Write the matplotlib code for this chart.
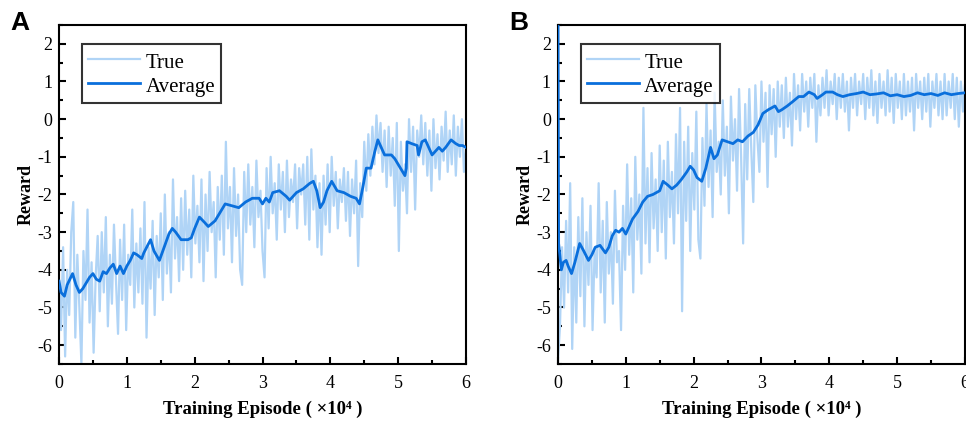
import numpy as np
import matplotlib
matplotlib.use("Agg")
import matplotlib.pyplot as plt
from matplotlib.ticker import MultipleLocator

plt.rcParams["font.family"] = ["Liberation Serif", "DejaVu Serif"]
plt.rcParams["axes.unicode_minus"] = False

# panel A, raw reward (x in units of 1e4 episodes, evenly spaced 0..6)
true_a = [
    -4.3, -5.6, -3.4, -6.3, -4.0, -5.2, -3.0, -2.2, -5.8, -3.6,
    -5.0, -6.5, -3.5, -4.8, -2.4, -5.4, -3.8, -6.2, -4.2, -3.1,
    -5.1, -3.0, -4.6, -2.6, -5.5, -3.6, -4.9, -2.8, -4.3, -5.7,
    -3.2, -4.8, -2.8, -5.6, -3.6, -4.4, -2.4, -5.0, -3.3, -4.6,
    -2.9, -4.9, -2.2, -5.8, -3.4, -4.5, -2.7, -5.2, -3.1, -4.2,
    -2.5, -4.8, -2.0, -4.1, -3.0, -4.6, -1.6, -3.7, -2.6, -4.3,
    -2.1, -4.0, -1.9, -3.6, -2.4, -4.2, -1.5, -3.3, -2.3, -3.8,
    -1.6, -4.3, -2.0, -3.5, -1.4, -3.0, -2.2, -4.2, -1.8, -3.2,
    -1.5, -3.6, -0.6, -2.9, -1.8, -3.8, -1.3, -3.1, -2.0, -4.0,
    -4.4, -1.4, -3.0, -1.2, -2.8, -1.8, -3.4, -1.1, -2.6, -1.9,
    -3.5, -4.2, -1.3, -2.9, -1.0, -2.5, -1.7, -3.2, -1.2, -2.4,
    -1.4, -3.0, -1.1, -2.6, -1.6, -2.2, -1.2, -2.9, -1.3, -2.0,
    -1.2, -2.8, -1.0, -3.2, -0.8, -2.4, -1.5, -3.4, -1.7, -3.6,
    -1.5, -2.8, -1.2, -3.0, -1.0, -2.3, -1.4, -2.9, -1.6, -2.2,
    -1.3, -2.7, -1.4, -3.1, -1.6, -2.5, -1.1, -3.9, -1.7, -2.6,
    -0.6, -1.9, -0.4, -1.5, -0.2, -1.2, 0.1, -0.9, -0.1, -1.4,
    -0.3, -1.8, -0.2, -1.5, -0.5, -2.3, -0.1, -3.5, -0.6, -1.9,
    -1.2, -2.5, 0.0, -1.4, -0.2, -2.4, -0.3, -1.0, 0.1, -1.2,
    -0.1, -1.5, -0.3, -1.9, 0.0, -1.3, -0.4, -1.6, -0.2, -1.1,
    0.2, -1.4, -0.3, -1.2, 0.1, -1.5, -0.2, -1.0, 0.0, -1.4,
    -0.8,
]

# panel A, moving average read at these episodes
avg_a_x = [
    0.0, 0.03, 0.08, 0.12, 0.2, 0.25, 0.3, 0.35, 0.45, 0.5, 0.55, 0.6,
    0.65, 0.7, 0.75, 0.8, 0.85, 0.9, 0.95, 1.0, 1.05, 1.1, 1.15, 1.22,
    1.25, 1.35, 1.4, 1.48, 1.55, 1.62, 1.67, 1.72, 1.8, 1.9, 1.95, 2.0,
    2.07, 2.15, 2.2, 2.3, 2.35, 2.45, 2.55, 2.65, 2.75, 2.85, 2.95, 3.0,
    3.05, 3.1, 3.15, 3.25, 3.35, 3.4, 3.5, 3.6, 3.7, 3.75, 3.8, 3.85,
    3.9, 3.95, 4.02, 4.1, 4.2, 4.3, 4.38, 4.43, 4.48, 4.53, 4.6, 4.65,
    4.7, 4.75, 4.8, 4.9, 4.95, 5.0, 5.05, 5.1, 5.12, 5.13, 5.2, 5.28,
    5.3, 5.35, 5.4, 5.45, 5.5, 5.55, 5.6, 5.65, 5.7, 5.78, 5.85, 5.9,
    5.95, 6.0,
]
avg_a = [
    -4.3, -4.6, -4.7, -4.4, -4.1, -4.4, -4.6, -4.5, -4.2, -4.1, -4.25, -4.3,
    -4.05, -4.1, -3.95, -3.85, -4.1, -3.9, -4.1, -3.9, -3.75, -3.55, -3.6, -3.7,
    -3.55, -3.2, -3.5, -3.75, -3.4, -3.05, -2.9, -3.0, -3.2, -3.2, -3.15, -2.9,
    -2.6, -2.75, -2.85, -2.7, -2.55, -2.25, -2.3, -2.35, -2.2, -2.1, -2.1, -2.25,
    -2.1, -2.2, -1.95, -1.9, -2.05, -2.15, -1.95, -1.85, -1.7, -1.65, -1.9, -2.35,
    -2.2, -1.9, -1.65, -1.9, -1.95, -2.05, -2.1, -2.25, -1.8, -1.3, -1.3, -0.9,
    -0.55, -0.75, -0.95, -0.95, -1.05, -1.2, -1.35, -1.5, -1.3, -0.6, -0.65, -0.7,
    -0.95, -0.6, -0.55, -0.75, -0.95, -0.85, -0.75, -0.85, -0.75, -0.55, -0.65, -0.7,
    -0.7, -0.75,
]

# panel B, raw reward
true_b = [
    -6.4, -5.5, -3.4, -5.0, -2.7, -4.6, -1.7, -6.1, -3.4, -5.4,
    -2.6, -4.7, -2.1, -5.5, -3.0, -4.4, -2.3, -5.6, -3.5, -4.2,
    -1.7, -4.6, -2.7, -5.4, -2.2, -4.1, -3.0, -4.9, -1.9, -3.8,
    -3.5, -5.6, -2.3, -4.0, -1.2, -3.6, -2.1, -4.6, -1.0, -3.2,
    -2.0, -4.1, 0.3, -3.3, -1.3, -3.8, -0.9, -2.9, -1.6, -3.5,
    -0.7, -3.0, -1.1, -3.7, -0.6, -2.6, -1.4, -3.3, -0.4, -2.5,
    0.3, -5.1, -0.6, -2.7, -0.2, -3.5, -0.9, -2.4, 0.2, -3.2,
    -3.7, -0.5, -2.3, 0.4, -1.8, -0.3, -2.6, 0.7, -1.4, -0.6,
    -2.0, 0.5, -1.5, -0.2, -2.5, 0.6, -1.1, 0.0, -1.9, 0.8,
    -1.0, -3.3, 0.4, -1.6, 0.8, -0.8, -2.2, 0.9, -0.5, -1.4,
    1.0, -0.6, 0.7, -1.8, 0.9, -0.4, 0.8, -1.0, 1.0, -0.2,
    0.9, -0.5, 1.1, -0.2, 0.7, -0.7, 1.2, 0.0, 0.9, -0.3,
    1.2, 0.2, 1.0, -0.2, 1.1, 0.3, 1.2, -0.6, 0.9, 0.1,
    1.1, 0.3, 1.3, 0.1, 1.0, 0.4, 1.2, 0.0, 1.1, 0.3,
    1.2, 0.2, 1.0, -0.3, 1.1, 0.3, 1.2, 0.1, 1.0, 0.4,
    1.2, 0.0, 1.1, 0.3, 1.3, 0.1, 1.0, -0.1, 1.2, 0.3,
    1.0, 0.1, 1.3, 0.2, 1.1, -0.1, 1.2, 0.3, 1.0, 0.0,
    1.2, 0.1, 1.0, 0.2, 1.1, -0.3, 1.2, 0.3, 1.0, 0.0,
    1.1, 0.2, 1.2, -0.2, 1.0, 0.3, 1.2, 0.1, 1.0, 0.0,
    1.2, 0.1, 1.0, 0.3, 1.2, 0.0, 1.1, -0.2, 1.0, 0.2,
    0.9,
]

avg_b_x = [
    0.0, 0.01, 0.05, 0.08, 0.12, 0.15, 0.2, 0.25, 0.32, 0.38, 0.45, 0.5,
    0.55, 0.62, 0.7, 0.75, 0.8, 0.85, 0.9, 0.95, 1.0, 1.05, 1.1, 1.18,
    1.25, 1.32, 1.4, 1.5, 1.55, 1.62, 1.68, 1.75, 1.82, 1.9, 1.95, 2.0,
    2.05, 2.12, 2.18, 2.25, 2.3, 2.35, 2.42, 2.5, 2.58, 2.65, 2.72, 2.8,
    2.88, 2.95, 3.02, 3.1, 3.2, 3.25, 3.3, 3.38, 3.45, 3.55, 3.62, 3.7,
    3.78, 3.82, 3.9, 3.95, 4.05, 4.12, 4.2, 4.3, 4.4, 4.5, 4.6, 4.7,
    4.8, 4.9, 5.0, 5.1, 5.2, 5.3, 5.4, 5.5, 5.6, 5.7, 5.8, 5.9, 6.0,
]
avg_b = [
    3.5, -3.3, -4.0, -3.8, -3.75, -3.9, -4.1, -3.8, -3.3, -3.5, -3.75, -3.6,
    -3.4, -3.35, -3.55, -3.4, -3.1, -2.95, -3.0, -2.9, -3.05, -2.85, -2.65, -2.45,
    -2.2, -2.05, -2.0, -1.9, -1.65, -1.75, -1.85, -1.75, -1.6, -1.4, -1.25, -1.35,
    -1.55, -1.65, -1.3, -0.75, -1.05, -0.95, -0.55, -0.6, -0.65, -0.55, -0.6, -0.45,
    -0.35, -0.15, 0.15, 0.25, 0.35, 0.2, 0.25, 0.35, 0.45, 0.6, 0.6, 0.72,
    0.65, 0.55, 0.65, 0.72, 0.72, 0.65, 0.6, 0.65, 0.68, 0.72, 0.65, 0.67,
    0.7, 0.62, 0.65, 0.6, 0.63, 0.7, 0.65, 0.68, 0.63, 0.7, 0.65, 0.68, 0.7,
]

light = "#b0d4f6"
dark = "#0a6fdc"

fig = plt.figure(figsize=(9.66, 4.23), dpi=100)
ax_a = fig.add_axes([0.0611, 0.1395, 0.4213, 0.8014])
ax_b = fig.add_axes([0.5776, 0.1395, 0.4213, 0.8014])

panels = [
    (ax_a, true_a, avg_a_x, avg_a, "A"),
    (ax_b, true_b, avg_b_x, avg_b, "B"),
]
for ax, tr, ax_x, av, tag in panels:
    xs = np.linspace(0, 6, len(tr))
    ax.plot(xs, tr, color=light, lw=1.6, label="True", zorder=2)
    ax.plot(ax_x, av, color=dark, lw=2.0, label="Average", zorder=3)
    ax.set_xlim(0, 6)
    ax.set_ylim(-6.5, 2.5)
    ax.xaxis.set_major_locator(MultipleLocator(1))
    ax.xaxis.set_minor_locator(MultipleLocator(0.5))
    ax.yaxis.set_major_locator(MultipleLocator(1))
    ax.yaxis.set_minor_locator(MultipleLocator(0.5))
    ax.tick_params(which="both", direction="in", width=1.5, labelsize=13,
                   top=False, right=False)
    ax.tick_params(axis="x", pad=8)
    ax.tick_params(axis="y", pad=5)
    ax.tick_params(which="major", length=5)
    ax.tick_params(which="minor", length=3)
    for s in ax.spines.values():
        s.set_linewidth(1.5)
    ax.set_xlabel("Training Episode ( ×10⁴ )", fontsize=13.5, fontweight="bold",
                  labelpad=6)
    ax.set_ylabel("Reward", fontsize=13, fontweight="bold", labelpad=2)
    leg = ax.legend(loc="upper left", bbox_to_anchor=(0.056, 0.944),
                    fontsize=15, frameon=True, fancybox=False,
                    edgecolor="black", handlelength=2.5, handletextpad=0.25,
                    handleheight=1.2, labelspacing=0.05, borderpad=0.3,
                    borderaxespad=0)
    leg.get_frame().set_linewidth(1.5)
    pos = ax.get_position()
    fig.text(pos.x0 - 0.05, 0.975, tag, fontsize=19, fontweight="bold",
             family=["Liberation Sans", "DejaVu Sans"], va="top", ha="left")

fig.savefig("out.png", dpi=100)
